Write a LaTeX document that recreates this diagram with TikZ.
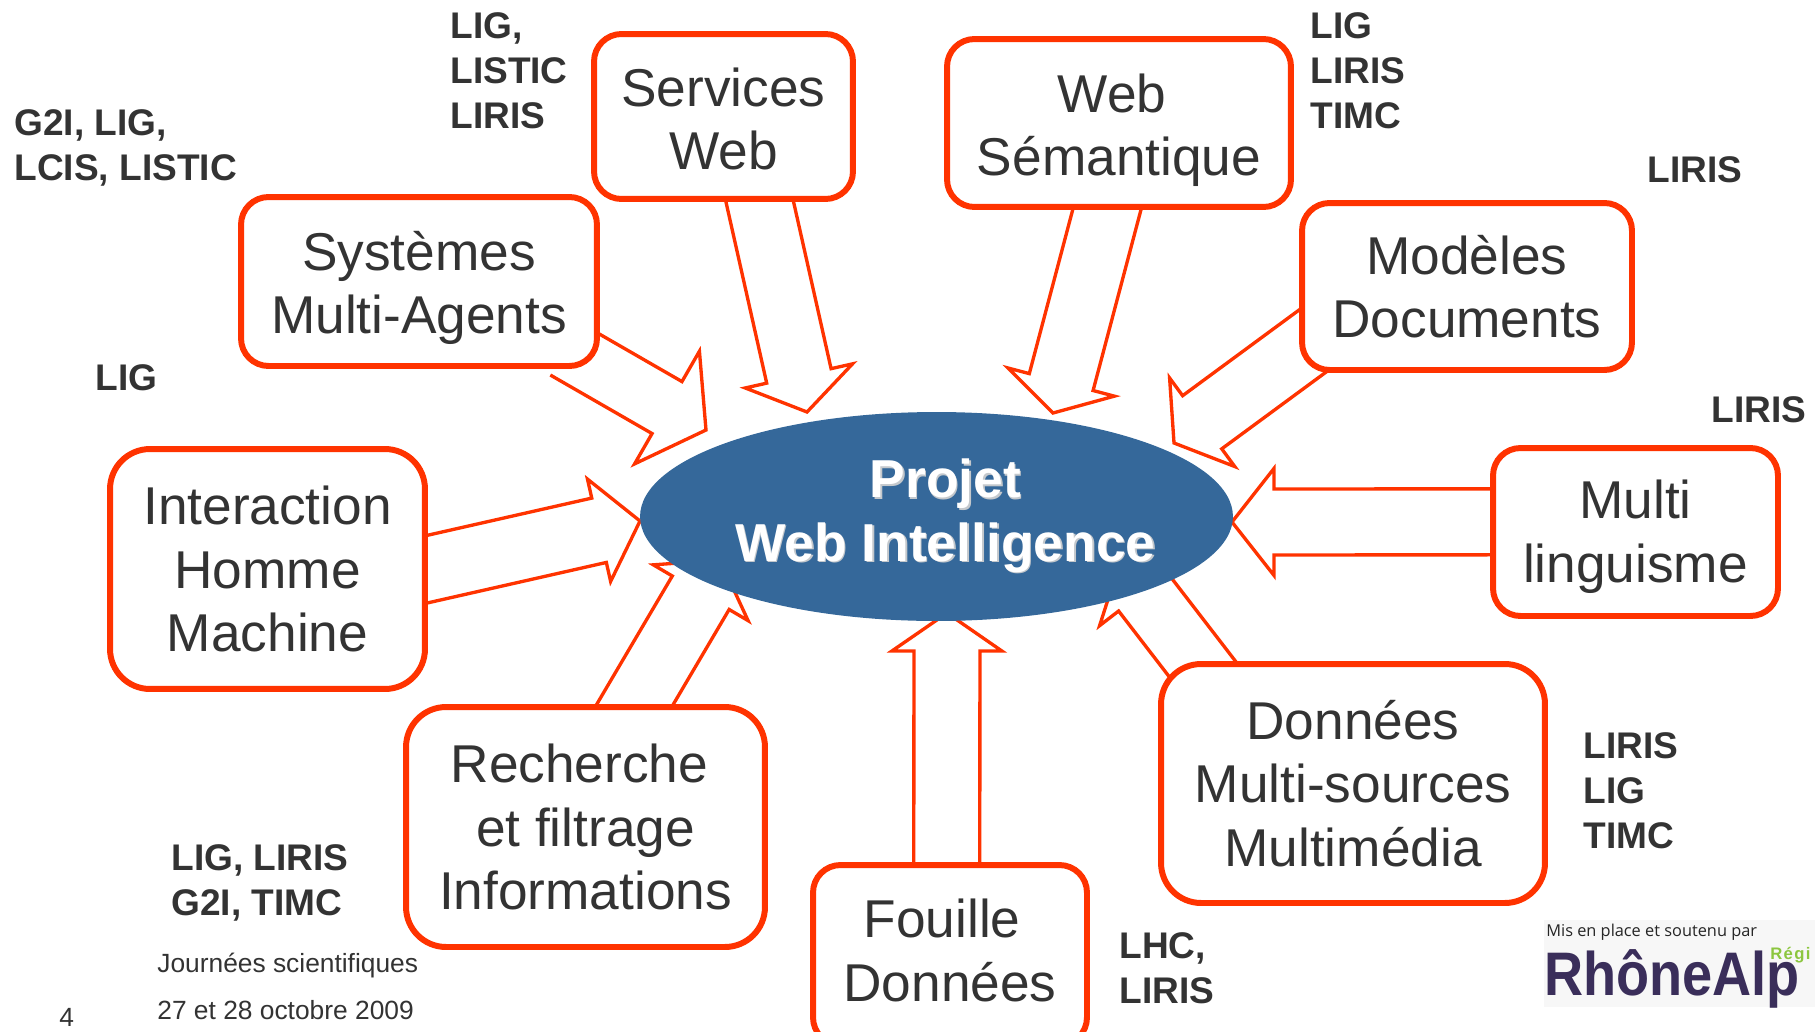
\documentclass[tikz,border=0pt]{standalone}
\usepackage{fontspec}
\setmainfont{Liberation Sans}
\newfontfamily\logofont{Open Sans}
\newfontfamily\rhonefont[FakeStretch=.88]{Liberation Sans Bold}
\newfontfamily\regifont[LetterSpace=8]{Liberation Sans Bold}
\usetikzlibrary{calc,backgrounds,shapes.geometric}
\definecolor{wired}{HTML}{FF3300}
\definecolor{wiblue}{HTML}{35689A}
\definecolor{wigrey}{HTML}{333333}
\definecolor{wishade}{HTML}{C4C8CC}
\definecolor{wipurple}{HTML}{3A2E5A}
\definecolor{wigreen}{HTML}{8CC63F}
\newcommand{\embossed}[1]{\leavevmode\hspace*{10pt}\rlap{\raisebox{-1pt}{\kern1pt\textcolor{wishade}{#1}}}#1}
\newcommand{\pushdown}[1]{\rule{0pt}{#1}}
\newcommand{\pushup}[1]{\rule[-#1]{0pt}{#1}}
\tikzset{
  theme/.style={draw=wired,line width=3.4pt,fill=white,rounded corners=.55cm,align=center,
                text=wigrey,font=\fontsize{30.3}{36.2}\selectfont,inner sep=0pt},
  lab/.style={anchor=west,align=left,text=wigrey,inner sep=0pt,
              font=\fontsize{21.1}{25.6}\selectfont\bfseries},
  small/.style={anchor=west,text=wigrey,inner sep=0pt,font=\fontsize{15}{18}\selectfont},
  blockarrow/.style n args={3}{draw=wired,line width=1.9pt,line join=miter,miter limit=20,
    to path={let \p1=($(\tikztostart)!-.8cm!(\tikztotarget)$),
                 \p2=($(\tikztotarget)!#1!(\tikztostart)$) in
      ($(\p1)!#2!90:(\tikztotarget)$) -- ($(\p2)!#2!90:(\tikztotarget)$)
      -- ($(\p2)!#3!90:(\tikztotarget)$) -- (\tikztotarget)
      -- ($(\p2)!#3!-90:(\tikztotarget)$) -- ($(\p2)!#2!-90:(\tikztotarget)$)
      -- ($(\p1)!#2!-90:(\tikztotarget)$)}}
}
\begin{document}
\begin{tikzpicture}[x=.02cm,y=-.02cm]
  \useasboundingbox (0,0) rectangle (1815,1031);

  % themes
  \node[theme,minimum width=5.18cm,minimum height=3.3cm]  (svc) at (723.5,116.5) {\pushdown{24.6pt}Services\\Web};
  \node[theme,minimum width=6.88cm,minimum height=3.36cm] (sem) at (1119,123)    {\pushdown{30pt}Web\hspace*{8pt}\\Sémantique};
  \node[theme,minimum width=7.12cm,minimum height=3.38cm] (sma) at (419,281.5)   {\pushdown{29.6pt}Systèmes\\Multi-Agents};
  \node[theme,minimum width=6.6cm,minimum height=3.34cm]  (doc) at (1467,286.5)  {Modèles\\Documents};
  \node[theme,minimum width=5.7cm,minimum height=3.36cm]  (mul) at (1635.5,532)  {\pushdown{27.5pt}Multi\\linguisme};
  \node[theme,rounded corners=.8cm,minimum width=6.3cm,minimum height=4.8cm]  (ihm) at (267.5,569) {Interaction\\Homme\\Machine};
  \node[theme,rounded corners=.8cm,minimum width=7.18cm,minimum height=4.8cm] (rec) at (585.5,827) {Recherche\hspace*{7pt}\\et filtrage\\Informations};
  \node[theme,minimum width=5.48cm,minimum height=3.6cm]  (fou) at (950,955)     {Fouille\hspace*{9pt}\\\pushup{5.3pt}Données};
  \node[theme,rounded corners=.8cm,minimum width=7.68cm,minimum height=4.78cm] (don) at (1353,783.5) {Données\\Multi-sources\\Multimédia};

  % centre
  \node[ellipse,fill=wiblue,minimum width=11.86cm,minimum height=4.18cm,inner xsep=-40pt,inner ysep=0pt,align=center,
        text=white,font=\fontsize{30.4}{36.2}\selectfont\bfseries] (proj) at (936.5,516.5)
        {\embossed{Projet}\\\embossed{Web Intelligence}};

  \coordinate (tsvc) at (807,412);
  \coordinate (tsem) at (1053,413);
  \coordinate (tsma) at (706,430);
  \coordinate (tdoc) at (1174,443);
  \coordinate (tmul) at (1232,522);
  \coordinate (tihm) at (640,521);
  \coordinate (trec) at (720,560);
  \coordinate (tfou) at (947,613);
  \coordinate (tdon) at (1120,562);

  \begin{scope}[on background layer]
    \draw[blockarrow={.74cm}{.66cm}{1.1cm}]  (svc.-67) to (tsvc);
    \draw[blockarrow={.64cm}{.66cm}{1.1cm}]  (sem.-98) to (tsem);
    \draw[blockarrow={.9cm}{.6cm}{1.3cm}]    (sma.south east) to (tsma);
    \draw[blockarrow={.7cm}{.66cm}{1.1cm}]   (doc.201) to (tdoc);
    \draw[blockarrow={.84cm}{.66cm}{1.07cm}] (mul.176) to (tmul);
    \draw[blockarrow={.84cm}{.66cm}{1.05cm}] (ihm.east) to (tihm);
    \draw[blockarrow={.76cm}{.66cm}{1.1cm}]  (rec.68) to (trec);
    \draw[blockarrow={.76cm}{.66cm}{1.1cm}]  (fou.92) to (tfou);
    \draw[blockarrow={.76cm}{.62cm}{1.1cm}]  (don.142) to (tdon);
  \end{scope}

  % labs
  \node[lab] (lsvc) at (450,70.5)  {LIG,\\LISTIC\\LIRIS};
  \node[lab] (lsma) at (14,147.5)  {G2I, LIG,\\LCIS, LISTIC};
  \node[lab] (lsem) at (1310,70.5) {LIG\\LIRIS\\TIMC};
  \node[lab] (ldoc) at (1647,170)  {LIRIS};
  \node[lab] (lihm) at (95,378)    {LIG};
  \node[lab] (lmul) at (1711,410)  {LIRIS};
  \node[lab] (ldon) at (1583,791)  {LIRIS\\LIG\\TIMC};
  \node[lab] (lrec) at (171,883)   {LIG, LIRIS\\G2I, TIMC};
  \node[lab] (lfou) at (1119,968)  {LHC,\\LIRIS};

  % footer
  \node[small] (jour) at (157,965.5) {Journées scientifiques};
  \node[small] (date) at (157,1010)  {27 et 28 octobre 2009};
  \node[small] (page) at (59,1017)   {4};

  % logo
  \node[anchor=north west,fill=black!3,minimum width=5.42cm,minimum height=1.74cm,inner sep=0pt] (logo) at (1544,920) {};
  \node[anchor=west,inner sep=0pt,text=black!85,font=\logofont\fontsize{9.3}{11}\selectfont] (mis) at (1546,932) {Mis en place et soutenu par};
  \node[anchor=base west,inner sep=0pt,text=wipurple,font=\rhonefont\fontsize{35}{38}\selectfont] (rhone) at (1544,995) {RhôneAlp};
  \node[anchor=base west,inner sep=0pt,text=wigreen,font=\regifont\fontsize{9.5}{11}\selectfont] (regi) at (1770,959) {Régi};
\end{tikzpicture}
\end{document}
